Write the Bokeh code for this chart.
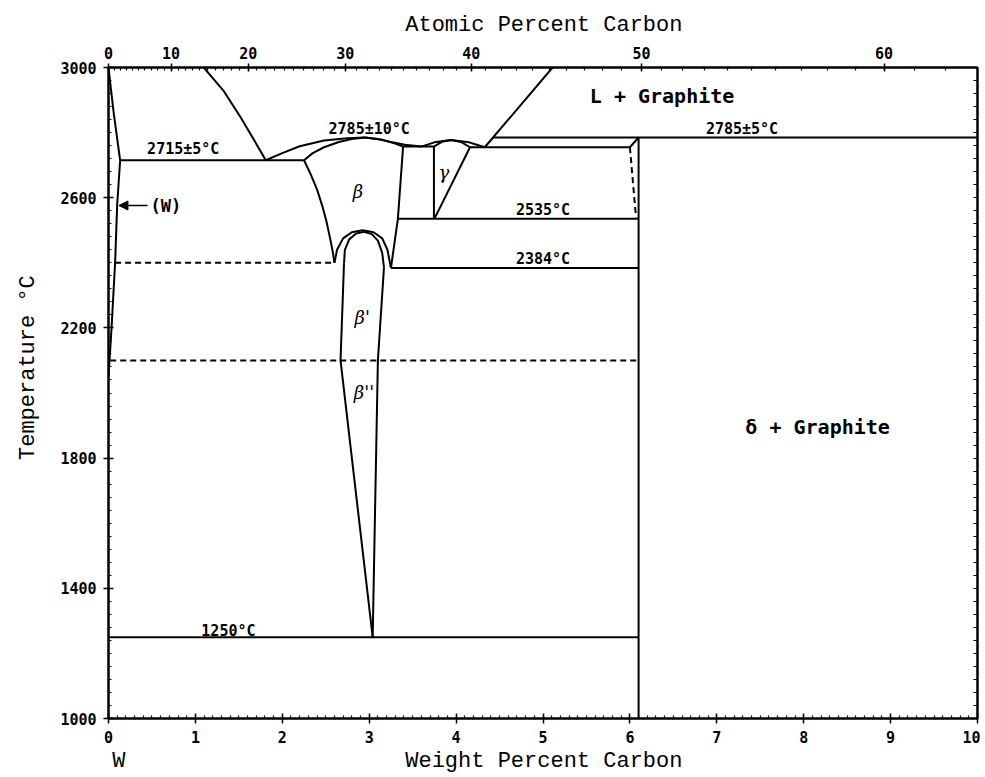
from bokeh.plotting import figure
from bokeh.models import Range1d, LinearAxis, FixedTicker, Label, Arrow, NormalHead
from bokeh.embed import file_html
from bokeh.resources import INLINE

# ---------------- axis ticks ----------------
wt_ticks = [0, 1, 2, 3, 4, 5, 6, 7, 8, 9, 10]
wt_minor = [i / 10 for i in range(0, 101)]
temp_ticks = [1000, 1400, 1800, 2200, 2600, 3000]
temp_minor = list(range(1000, 3001, 40))
at_ticks = [0, 10, 20, 30, 40, 50, 60]
at_minor = list(range(0, 66))

# ---------------- phase boundaries (wt% C, deg C) ----------------
w_liq_x = [0.0, 0.06, 0.134]
w_liq_t = [3000, 2860, 2715]
w_solvus_x = [0.134, 0.10, 0.076, 0.035, 0.0]
w_solvus_t = [2715, 2580, 2400, 2200, 2050]
liq_left_x = [1.096, 1.32, 1.52, 1.68, 1.81]
liq_left_t = [3000, 2930, 2847, 2775, 2715]
eut_2715_x = [0.134, 2.25]
eut_2715_t = [2715, 2715]
beta_liq_x = [1.81, 2.0, 2.2, 2.48, 2.75, 2.95, 3.1, 3.25, 3.41, 3.6]
beta_liq_t = [2715, 2737, 2758, 2776, 2783, 2785, 2780, 2771, 2763, 2757]
beta_sol_x = [2.25, 2.35, 2.48, 2.65, 2.8, 2.95, 3.15, 3.3, 3.39]
beta_sol_t = [2715, 2737, 2755, 2771, 2780, 2785, 2778, 2766, 2757]
eut_bg_x = [3.39, 3.745]
eut_bg_t = [2757, 2757]
gamma_liq_x = [3.6, 3.75, 3.94, 4.15, 4.33]
gamma_liq_t = [2757, 2770, 2777, 2770, 2755]
gamma_sol_x = [3.745, 3.84, 3.94, 4.06, 4.16]
gamma_sol_t = [2757, 2772, 2777, 2771, 2755]
gamma_left_x = [3.745, 3.745]
gamma_left_t = [2757, 2535]
gamma_right_x = [4.16, 3.75]
gamma_right_t = [2755, 2535]
eut_2755_x = [4.16, 6.0]
eut_2755_t = [2755, 2755]
liq_right_x = [4.33, 5.11]
liq_right_t = [2755, 3000]
peri_2785_x = [4.425, 10.0]
peri_2785_t = [2785, 2785]
wc_x = [6.1, 6.1]
wc_t = [1000, 2785]
wc_top_x = [6.0, 6.1]
wc_top_t = [2755, 2785]
wc_dash_x = [6.0, 6.07]
wc_dash_t = [2755, 2540]
beta_left_x = [2.25, 2.33, 2.40, 2.46, 2.51, 2.55, 2.58, 2.60]
beta_left_t = [2715, 2670, 2625, 2575, 2525, 2475, 2435, 2400]
beta_right_x = [3.39, 3.33, 3.25]
beta_right_t = [2757, 2535, 2384]
line_2535_x = [3.33, 6.1]
line_2535_t = [2535, 2535]
line_2384_x = [3.25, 6.1]
line_2384_t = [2384, 2384]
dome_outer_x = [2.60, 2.63, 2.70, 2.80, 2.925, 3.05, 3.15, 3.21, 3.25]
dome_outer_t = [2400, 2440, 2475, 2494, 2500, 2494, 2475, 2440, 2384]
dome_inner_x = [2.71, 2.72, 2.77, 2.85, 2.94, 3.03, 3.10, 3.15, 3.17]
dome_inner_t = [2397, 2440, 2472, 2490, 2495, 2488, 2468, 2430, 2386]
bpp_left_x = [2.71, 2.67, 3.04]
bpp_left_t = [2397, 2100, 1250]
bpp_right_x = [3.17, 3.10, 3.04]
bpp_right_t = [2386, 2100, 1250]
line_1250_x = [0.0, 6.1]
line_1250_t = [1250, 1250]
dash_2400_x = [0.076, 2.60]
dash_2400_t = [2400, 2400]
dash_2100_x = [0.02, 6.1]
dash_2100_t = [2100, 2100]

solid_lines = [
    (w_liq_x, w_liq_t), (w_solvus_x, w_solvus_t), (liq_left_x, liq_left_t),
    (eut_2715_x, eut_2715_t), (beta_liq_x, beta_liq_t), (beta_sol_x, beta_sol_t),
    (eut_bg_x, eut_bg_t), (gamma_liq_x, gamma_liq_t), (gamma_sol_x, gamma_sol_t),
    (gamma_left_x, gamma_left_t), (gamma_right_x, gamma_right_t),
    (eut_2755_x, eut_2755_t), (liq_right_x, liq_right_t), (peri_2785_x, peri_2785_t),
    (wc_x, wc_t), (wc_top_x, wc_top_t), (beta_left_x, beta_left_t),
    (beta_right_x, beta_right_t), (line_2535_x, line_2535_t), (line_2384_x, line_2384_t),
    (dome_outer_x, dome_outer_t), (dome_inner_x, dome_inner_t),
    (bpp_left_x, bpp_left_t), (bpp_right_x, bpp_right_t), (line_1250_x, line_1250_t),
]
dashed_lines = [(wc_dash_x, wc_dash_t), (dash_2400_x, dash_2400_t), (dash_2100_x, dash_2100_t)]

MONO = "DejaVu Sans Mono"
TITLE_FONT = "Liberation Mono"


def at_to_wt(a):
    return round(100.0 * a * 12.011 / (a * 12.011 + (100 - a) * 183.84), 5)


p = figure(width=980, height=776, x_range=Range1d(0, 10), y_range=Range1d(1000, 3000),
           output_backend="svg", toolbar_location=None, x_axis_type=None, y_axis_type=None,
           min_border_left=108, min_border_right=3, min_border_top=67, min_border_bottom=58)
p.xgrid.visible = False
p.ygrid.visible = False
p.outline_line_color = "black"
p.outline_line_width = 2
p.background_fill_color = "white"
p.border_fill_color = "white"


def style(ax, out=5, inn=5, minor=3, standoff=6, fs="15px"):
    ax.axis_line_width = 2
    ax.major_tick_out = out
    ax.major_tick_in = inn
    ax.minor_tick_out = 0
    ax.minor_tick_in = minor
    ax.major_tick_line_width = 1.5
    ax.minor_tick_line_width = 1.2
    ax.major_label_standoff = standoff
    ax.major_label_text_font = MONO
    ax.major_label_text_font_style = "bold"
    ax.major_label_text_font_size = fs
    ax.major_label_text_color = "black"


def title_axis(ticks, texts, standoff):
    ax = LinearAxis(ticker=FixedTicker(ticks=ticks, minor_ticks=[]),
                    major_label_overrides={t: s for t, s in zip(ticks, texts)})
    ax.axis_line_color = None
    ax.major_tick_line_color = None
    ax.minor_tick_line_color = None
    ax.major_tick_out = 0
    ax.major_tick_in = 0
    ax.major_label_standoff = standoff
    ax.major_label_text_font = TITLE_FONT
    ax.major_label_text_font_size = "22px"
    ax.major_label_text_color = "black"
    return ax


bottom = LinearAxis(ticker=FixedTicker(ticks=wt_ticks, minor_ticks=wt_minor))
style(bottom, standoff=7)
p.add_layout(bottom, "below")
p.add_layout(title_axis([0.12, 5.01], ["W", "Weight Percent Carbon"], 3), "below")

left = LinearAxis(ticker=FixedTicker(ticks=temp_ticks, minor_ticks=temp_minor))
style(left, standoff=7)
p.add_layout(left, "left")
left_title = title_axis([2078.0], ["Temperature °C"], 16)
left_title.major_label_orientation = "vertical"
p.add_layout(left_title, "left")

top_major = [at_to_wt(a) for a in at_ticks]
top_minor = [at_to_wt(a) for a in at_minor]
top = LinearAxis(ticker=FixedTicker(ticks=top_major, minor_ticks=top_minor),
                 major_label_overrides={w: str(a) for w, a in zip(top_major, at_ticks)})
style(top, out=4, inn=4, standoff=5)
p.add_layout(top, "above")
p.add_layout(title_axis([5.01], ["Atomic Percent Carbon"], 6), "above")

right = LinearAxis(ticker=FixedTicker(ticks=[], minor_ticks=temp_minor))
style(right, out=0, inn=5, minor=4, standoff=0)
p.add_layout(right, "right")

for xs, ts in solid_lines:
    p.line(xs, ts, line_color="black", line_width=2)
for xs, ts in dashed_lines:
    p.line(xs, ts, line_color="black", line_width=2, line_dash="6 4")

# region / temperature labels: (text, x, T, size)
labels = [
    ("2715±5°C", 0.86, 2751, "15px"),
    ("2785±10°C", 3.0, 2812, "15px"),
    ("2785±5°C", 7.29, 2812, "15px"),
    ("L + Graphite", 6.37, 2911, "20px"),
    ("2535°C", 5.0, 2563, "15px"),
    ("2384°C", 5.0, 2412, "15px"),
    ("1250°C", 1.38, 1269, "15px"),
    ("δ + Graphite", 8.16, 1897, "20px"),
    ("(W)", 0.66, 2576, "17px"),
]
for txt, x, t, fs in labels:
    p.add_layout(Label(x=x, y=t, text=txt, text_font=MONO, text_font_size=fs,
                       text_font_style="bold", text_align="center", text_baseline="middle",
                       text_color="black"))

greek = [("β", 2.87, 2619), ("γ", 3.86, 2677), ("β'", 2.92, 2232), ("β''", 2.94, 2002)]
for txt, x, t in greek:
    p.add_layout(Label(x=x, y=t, text=txt, text_font="DejaVu Serif", text_font_size="18px",
                       text_font_style="italic", text_align="center", text_baseline="middle",
                       text_color="black"))

p.add_layout(Arrow(end=NormalHead(size=9, fill_color="black", line_color="black"),
                   x_start=0.45, y_start=2576, x_end=0.12, y_end=2576,
                   line_color="black", line_width=1.5))

open("out.html", "w").write(file_html(p, INLINE))
